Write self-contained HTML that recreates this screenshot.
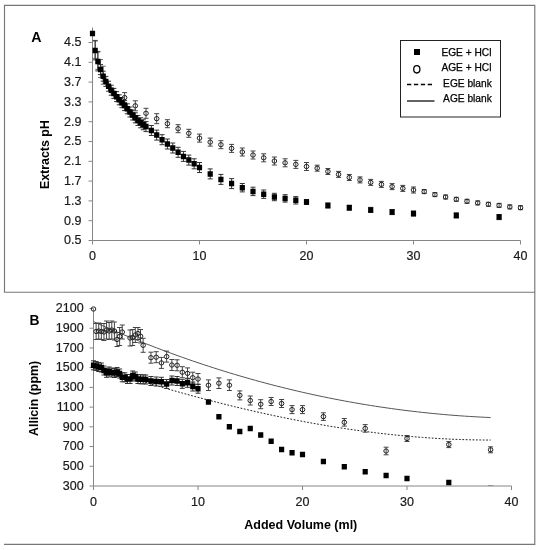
<!DOCTYPE html>
<html><head><meta charset="utf-8"><style>
html,body{margin:0;padding:0;background:#fff;width:541px;height:550px;overflow:hidden;}
svg{display:block;font-family:"Liberation Sans",sans-serif;will-change:transform;}
</style></head><body>
<svg width="541" height="550" viewBox="0 0 541 550">
<rect width="541" height="550" fill="#fff"/>
<g stroke="#777" stroke-width="1.15" fill="none" stroke-linecap="square">
<path d="M4.5 292.2V5.3H534.8V544.4H4.5M4.5 292.2H534.8"/>
</g>
<g stroke="#868686" stroke-width="1" fill="none">
<path d="M92.5 27.5V240.5H520.5"/>
<path d="M88.5 240.5H92.5M88.5 220.7H92.5M88.5 200.9H92.5M88.5 181.1H92.5M88.5 161.3H92.5M88.5 141.5H92.5M88.5 121.7H92.5M88.5 101.9H92.5M88.5 82.1H92.5M88.5 62.3H92.5M88.5 42.5H92.5M92.5 240.5V244.5M199.5 240.5V244.5M306.5 240.5V244.5M413.5 240.5V244.5M520.5 240.5V244.5"/>
</g>
<g font-family="Liberation Sans, sans-serif" font-size="12.5" fill="#1a1a1a" stroke="#1a1a1a" stroke-width="0.2">
<text x="81.4" y="244.3" text-anchor="end">0.5</text>
<text x="81.4" y="224.5" text-anchor="end">0.9</text>
<text x="81.4" y="204.7" text-anchor="end">1.3</text>
<text x="81.4" y="184.9" text-anchor="end">1.7</text>
<text x="81.4" y="165.1" text-anchor="end">2.1</text>
<text x="81.4" y="145.3" text-anchor="end">2.5</text>
<text x="81.4" y="125.5" text-anchor="end">2.9</text>
<text x="81.4" y="105.7" text-anchor="end">3.3</text>
<text x="81.4" y="85.9" text-anchor="end">3.7</text>
<text x="81.4" y="66.1" text-anchor="end">4.1</text>
<text x="81.4" y="46.3" text-anchor="end">4.5</text>
<text x="92.5" y="259.5" text-anchor="middle">0</text>
<text x="199.5" y="259.5" text-anchor="middle">10</text>
<text x="306.5" y="259.5" text-anchor="middle">20</text>
<text x="413.5" y="259.5" text-anchor="middle">30</text>
<text x="520.5" y="259.5" text-anchor="middle">40</text>
</g>
<g stroke="#868686" stroke-width="1" fill="none">
<path d="M93.5 308.5V486H511.5"/>
<path d="M89.5 486H93.5M89.5 466.28H93.5M89.5 446.56H93.5M89.5 426.83H93.5M89.5 407.11H93.5M89.5 387.39H93.5M89.5 367.67H93.5M89.5 347.95H93.5M89.5 328.22H93.5M89.5 308.5H93.5M93.5 486V490M198 486V490M302.5 486V490M407 486V490M511.5 486V490"/>
</g>
<g font-family="Liberation Sans, sans-serif" font-size="12.5" fill="#1a1a1a" stroke="#1a1a1a" stroke-width="0.2">
<text x="83.6" y="489.8" text-anchor="end">300</text>
<text x="83.6" y="470.08" text-anchor="end">500</text>
<text x="83.6" y="450.36" text-anchor="end">700</text>
<text x="83.6" y="430.63" text-anchor="end">900</text>
<text x="83.6" y="410.91" text-anchor="end">1100</text>
<text x="83.6" y="391.19" text-anchor="end">1300</text>
<text x="83.6" y="371.47" text-anchor="end">1500</text>
<text x="83.6" y="351.75" text-anchor="end">1700</text>
<text x="83.6" y="332.02" text-anchor="end">1900</text>
<text x="83.6" y="312.3" text-anchor="end">2100</text>
<text x="93.5" y="505.5" text-anchor="middle">0</text>
<text x="198" y="505.5" text-anchor="middle">10</text>
<text x="302.5" y="505.5" text-anchor="middle">20</text>
<text x="407" y="505.5" text-anchor="middle">30</text>
<text x="511.5" y="505.5" text-anchor="middle">40</text>
</g>
<path d="M95.17 40.4V58.4M92.67 40.4H97.67M92.67 58.4H97.67M97.85 51.4V69.4M95.35 51.4H100.35M95.35 69.4H100.35M100.53 59.6V77.6M98.03 59.6H103.03M98.03 77.6H103.03M103.2 66.2V84.2M100.7 66.2H105.7M100.7 84.2H105.7" stroke="#666" stroke-width="1" fill="none"/>
<path d="M124.6 92.6V102.6M122.1 92.6H127.1M122.1 102.6H127.1M135.3 100.8V110.8M132.8 100.8H137.8M132.8 110.8H137.8M146 108.3V118.3M143.5 108.3H148.5M143.5 118.3H148.5M156.7 113.7V123.7M154.2 113.7H159.2M154.2 123.7H159.2M167.4 119.7V127.7M164.9 119.7H169.9M164.9 127.7H169.9M178.1 124.7V132.7M175.6 124.7H180.6M175.6 132.7H180.6M188.8 129.3V137.3M186.3 129.3H191.3M186.3 137.3H191.3M199.5 134.1V142.1M197 134.1H202M197 142.1H202M210.2 138.1V146.1M207.7 138.1H212.7M207.7 146.1H212.7M220.9 140.7V148.7M218.4 140.7H223.4M218.4 148.7H223.4M231.6 144.4V152.4M229.1 144.4H234.1M229.1 152.4H234.1M242.3 148V156M239.8 148H244.8M239.8 156H244.8M253 151V159M250.5 151H255.5M250.5 159H255.5M263.7 153.8V161.8M261.2 153.8H266.2M261.2 161.8H266.2M274.4 157V165M271.9 157H276.9M271.9 165H276.9M285.1 158.8V166.8M282.6 158.8H287.6M282.6 166.8H287.6M295.8 160.4V168.4M293.3 160.4H298.3M293.3 168.4H298.3M306.5 162.5V170.5M304 162.5H309M304 170.5H309M317.2 165.2V171.2M314.7 165.2H319.7M314.7 171.2H319.7M327.9 168.5V174.5M325.4 168.5H330.4M325.4 174.5H330.4M338.6 171.4V177.4M336.1 171.4H341.1M336.1 177.4H341.1M349.3 174.5V180.5M346.8 174.5H351.8M346.8 180.5H351.8M360 176.9V182.9M357.5 176.9H362.5M357.5 182.9H362.5M370.7 179.4V185.4M368.2 179.4H373.2M368.2 185.4H373.2M381.4 181.4V187.4M378.9 181.4H383.9M378.9 187.4H383.9M392.1 183.6V189.6M389.6 183.6H394.6M389.6 189.6H394.6M402.8 185.4V191.4M400.3 185.4H405.3M400.3 191.4H405.3M413.5 187V193M411 187H416M411 193H416M424.2 189.6V193.6M421.7 189.6H426.7M421.7 193.6H426.7M434.9 192.6V196.6M432.4 192.6H437.4M432.4 196.6H437.4M445.6 195V199M443.1 195H448.1M443.1 199H448.1M456.3 197.3V201.3M453.8 197.3H458.8M453.8 201.3H458.8M467 199.3V203.3M464.5 199.3H469.5M464.5 203.3H469.5M477.7 200.9V204.9M475.2 200.9H480.2M475.2 204.9H480.2M488.4 202.3V206.3M485.9 202.3H490.9M485.9 206.3H490.9M499.1 203.4V207.4M496.6 203.4H501.6M496.6 207.4H501.6M509.8 204.9V208.9M507.3 204.9H512.3M507.3 208.9H512.3M520.5 205.7V209.7M518 205.7H523M518 209.7H523" stroke="#444" stroke-width="1" fill="none"/>
<g fill="none" stroke="#222" stroke-width="1"><ellipse cx="124.6" cy="97.6" rx="2.3" ry="2.15"/><ellipse cx="135.3" cy="105.8" rx="2.3" ry="2.15"/><ellipse cx="146" cy="113.3" rx="2.3" ry="2.15"/><ellipse cx="156.7" cy="118.7" rx="2.3" ry="2.15"/><ellipse cx="167.4" cy="123.7" rx="2.3" ry="2.15"/><ellipse cx="178.1" cy="128.7" rx="2.3" ry="2.15"/><ellipse cx="188.8" cy="133.3" rx="2.3" ry="2.15"/><ellipse cx="199.5" cy="138.1" rx="2.3" ry="2.15"/><ellipse cx="210.2" cy="142.1" rx="2.3" ry="2.15"/><ellipse cx="220.9" cy="144.7" rx="2.3" ry="2.15"/><ellipse cx="231.6" cy="148.4" rx="2.3" ry="2.15"/><ellipse cx="242.3" cy="152" rx="2.3" ry="2.15"/><ellipse cx="253" cy="155" rx="2.3" ry="2.15"/><ellipse cx="263.7" cy="157.8" rx="2.3" ry="2.15"/><ellipse cx="274.4" cy="161" rx="2.3" ry="2.15"/><ellipse cx="285.1" cy="162.8" rx="2.3" ry="2.15"/><ellipse cx="295.8" cy="164.4" rx="2.3" ry="2.15"/><ellipse cx="306.5" cy="166.5" rx="2.3" ry="2.15"/><ellipse cx="317.2" cy="168.2" rx="2.3" ry="2.15"/><ellipse cx="327.9" cy="171.5" rx="2.3" ry="2.15"/><ellipse cx="338.6" cy="174.4" rx="2.3" ry="2.15"/><ellipse cx="349.3" cy="177.5" rx="2.3" ry="2.15"/><ellipse cx="360" cy="179.9" rx="2.3" ry="2.15"/><ellipse cx="370.7" cy="182.4" rx="2.3" ry="2.15"/><ellipse cx="381.4" cy="184.4" rx="2.3" ry="2.15"/><ellipse cx="392.1" cy="186.6" rx="2.3" ry="2.15"/><ellipse cx="402.8" cy="188.4" rx="2.3" ry="2.15"/><ellipse cx="413.5" cy="190" rx="2.3" ry="2.15"/><ellipse cx="424.2" cy="191.6" rx="2.3" ry="2.15"/><ellipse cx="434.9" cy="194.6" rx="2.3" ry="2.15"/><ellipse cx="445.6" cy="197" rx="2.3" ry="2.15"/><ellipse cx="456.3" cy="199.3" rx="2.3" ry="2.15"/><ellipse cx="467" cy="201.3" rx="2.3" ry="2.15"/><ellipse cx="477.7" cy="202.9" rx="2.3" ry="2.15"/><ellipse cx="488.4" cy="204.3" rx="2.3" ry="2.15"/><ellipse cx="499.1" cy="205.4" rx="2.3" ry="2.15"/><ellipse cx="509.8" cy="206.9" rx="2.3" ry="2.15"/><ellipse cx="520.5" cy="207.7" rx="2.3" ry="2.15"/></g>
<path d="M95.17 40.9V59.9M92.67 40.9H97.67M92.67 59.9H97.67M97.85 51.9V70.9M95.35 51.9H100.35M95.35 70.9H100.35M100.53 64.6V74.6M98.03 64.6H103.03M98.03 74.6H103.03M103.2 71.2V81.2M100.7 71.2H105.7M100.7 81.2H105.7M105.88 76.4V86.4M103.38 76.4H108.38M103.38 86.4H108.38M108.55 81.2V91.2M106.05 81.2H111.05M106.05 91.2H111.05M111.22 85.2V95.2M108.72 85.2H113.72M108.72 95.2H113.72M113.9 88.4V98.4M111.4 88.4H116.4M111.4 98.4H116.4M116.58 91.64V101.64M114.08 91.64H119.08M114.08 101.64H119.08M119.25 94.8V104.8M116.75 94.8H121.75M116.75 104.8H121.75M121.92 97.7V107.7M119.42 97.7H124.42M119.42 107.7H124.42M124.6 100.6V110.6M122.1 100.6H127.1M122.1 110.6H127.1M127.28 103.8V113.8M124.78 103.8H129.78M124.78 113.8H129.78M129.95 107V117M127.45 107H132.45M127.45 117H132.45M132.62 109.99V119.99M130.12 109.99H135.12M130.12 119.99H135.12M135.3 112.8V122.8M132.8 112.8H137.8M132.8 122.8H137.8M137.97 115.43V125.43M135.47 115.43H140.47M135.47 125.43H140.47M140.65 117.8V127.8M138.15 117.8H143.15M138.15 127.8H143.15M143.32 119.76V129.76M140.82 119.76H145.82M140.82 129.76H145.82M146 121.6V131.6M143.5 121.6H148.5M143.5 131.6H148.5M151.35 125.5V135.5M148.85 125.5H153.85M148.85 135.5H153.85M156.7 130.1V140.1M154.2 130.1H159.2M154.2 140.1H159.2M162.05 134.7V144.7M159.55 134.7H164.55M159.55 144.7H164.55M167.4 139V149M164.9 139H169.9M164.9 149H169.9M172.75 143V153M170.25 143H175.25M170.25 153H175.25M178.1 147.3V157.3M175.6 147.3H180.6M175.6 157.3H180.6M183.45 151.4V161.4M180.95 151.4H185.95M180.95 161.4H185.95M188.8 155.1V165.1M186.3 155.1H191.3M186.3 165.1H191.3M194.15 158.8V168.8M191.65 158.8H196.65M191.65 168.8H196.65M199.5 162.5V172.5M197 162.5H202M197 172.5H202M210.2 168.9V178.9M207.7 168.9H212.7M207.7 178.9H212.7M220.9 174.4V184.4M218.4 174.4H223.4M218.4 184.4H223.4M231.6 178.6V188.6M229.1 178.6H234.1M229.1 188.6H234.1M242.3 183.5V191.9M239.8 183.5H244.8M239.8 191.9H244.8M253 187.2V195.6M250.5 187.2H255.5M250.5 195.6H255.5M263.7 190V198.4M261.2 190H266.2M261.2 198.4H266.2M274.4 193.3V200.7M271.9 193.3H276.9M271.9 200.7H276.9M285.1 194.7V202.1M282.6 194.7H287.6M282.6 202.1H287.6M295.8 196.6V204M293.3 196.6H298.3M293.3 204H298.3M306.5 199.5V204.5M304 199.5H309M304 204.5H309M327.9 203V208M325.4 203H330.4M325.4 208H330.4M349.3 205.2V210.2M346.8 205.2H351.8M346.8 210.2H351.8M370.7 207.4V212.4M368.2 207.4H373.2M368.2 212.4H373.2M392.1 209.6V214.6M389.6 209.6H394.6M389.6 214.6H394.6M413.5 211.1V216.1M411 211.1H416M411 216.1H416M456.3 212.9V217.9M453.8 212.9H458.8M453.8 217.9H458.8M499.1 214.6V219.6M496.6 214.6H501.6M496.6 219.6H501.6" stroke="#333" stroke-width="1" fill="none"/>
<path d="M89.9 30.65h5.2v5.5h-5.2zM92.58 47.65h5.2v5.5h-5.2zM95.25 58.65h5.2v5.5h-5.2zM97.93 66.85h5.2v5.5h-5.2zM100.6 73.45h5.2v5.5h-5.2zM103.28 78.65h5.2v5.5h-5.2zM105.95 83.45h5.2v5.5h-5.2zM108.62 87.45h5.2v5.5h-5.2zM111.3 90.65h5.2v5.5h-5.2zM113.98 93.89h5.2v5.5h-5.2zM116.65 97.05h5.2v5.5h-5.2zM119.33 99.95h5.2v5.5h-5.2zM122 102.85h5.2v5.5h-5.2zM124.68 106.05h5.2v5.5h-5.2zM127.35 109.25h5.2v5.5h-5.2zM130.03 112.24h5.2v5.5h-5.2zM132.7 115.05h5.2v5.5h-5.2zM135.38 117.68h5.2v5.5h-5.2zM138.05 120.05h5.2v5.5h-5.2zM140.72 122.01h5.2v5.5h-5.2zM143.4 123.85h5.2v5.5h-5.2zM148.75 127.75h5.2v5.5h-5.2zM154.1 132.35h5.2v5.5h-5.2zM159.45 136.95h5.2v5.5h-5.2zM164.8 141.25h5.2v5.5h-5.2zM170.15 145.25h5.2v5.5h-5.2zM175.5 149.55h5.2v5.5h-5.2zM180.85 153.65h5.2v5.5h-5.2zM186.2 157.35h5.2v5.5h-5.2zM191.55 161.05h5.2v5.5h-5.2zM196.9 164.75h5.2v5.5h-5.2zM207.6 171.15h5.2v5.5h-5.2zM218.3 176.65h5.2v5.5h-5.2zM229 180.85h5.2v5.5h-5.2zM239.7 184.95h5.2v5.5h-5.2zM250.4 188.65h5.2v5.5h-5.2zM261.1 191.45h5.2v5.5h-5.2zM271.8 194.25h5.2v5.5h-5.2zM282.5 195.65h5.2v5.5h-5.2zM293.2 197.55h5.2v5.5h-5.2zM303.9 199.25h5.2v5.5h-5.2zM325.3 202.75h5.2v5.5h-5.2zM346.7 204.95h5.2v5.5h-5.2zM368.1 207.15h5.2v5.5h-5.2zM389.5 209.35h5.2v5.5h-5.2zM410.9 210.85h5.2v5.5h-5.2zM453.7 212.65h5.2v5.5h-5.2zM496.5 214.35h5.2v5.5h-5.2z" fill="#000"/>
<defs><clipPath id="cb"><rect x="80" y="290" width="440" height="196"/></clipPath></defs><g clip-path="url(#cb)">
<polyline points="93.5,321.62 98.72,323.96 103.95,326.27 109.17,328.54 114.4,330.79 119.62,333.01 124.85,335.2 130.07,337.36 135.3,339.49 140.53,341.59 145.75,343.66 150.97,345.7 156.2,347.71 161.43,349.69 166.65,351.64 171.88,353.56 177.1,355.46 182.32,357.32 187.55,359.15 192.77,360.96 198,362.74 203.22,364.48 208.45,366.2 213.68,367.89 218.9,369.55 224.12,371.19 229.35,372.79 234.57,374.37 239.8,375.91 245.02,377.43 250.25,378.92 255.47,380.38 260.7,381.81 265.92,383.22 271.15,384.59 276.38,385.94 281.6,387.26 286.82,388.55 292.05,389.81 297.27,391.05 302.5,392.26 307.73,393.44 312.95,394.59 318.17,395.71 323.4,396.81 328.62,397.88 333.85,398.92 339.07,399.93 344.3,400.91 349.52,401.87 354.75,402.8 359.97,403.71 365.2,404.58 370.42,405.43 375.65,406.25 380.88,407.05 386.1,407.81 391.32,408.55 396.55,409.27 401.77,409.95 407,410.61 412.22,411.24 417.45,411.85 422.67,412.43 427.9,412.98 433.12,413.51 438.35,414.01 443.57,414.48 448.8,414.93 454.02,415.35 459.25,415.74 464.47,416.11 469.7,416.45 474.92,416.76 480.15,417.05 485.38,417.31 490.6,417.55" fill="none" stroke="#555" stroke-width="1"/>
<polyline points="93.5,365.96 98.72,367.68 103.95,369.37 109.17,371.06 114.4,372.73 119.62,374.39 124.85,376.03 130.07,377.66 135.3,379.27 140.53,380.86 145.75,382.44 150.97,384.01 156.2,385.56 161.43,387.09 166.65,388.6 171.88,390.1 177.1,391.58 182.32,393.04 187.55,394.49 192.77,395.92 198,397.33 203.22,398.72 208.45,400.09 213.68,401.45 218.9,402.78 224.12,404.1 229.35,405.39 234.57,406.67 239.8,407.92 245.02,409.16 250.25,410.38 255.47,411.57 260.7,412.74 265.92,413.9 271.15,415.03 276.38,416.14 281.6,417.22 286.82,418.29 292.05,419.33 297.27,420.35 302.5,421.35 307.73,422.33 312.95,423.28 318.17,424.2 323.4,425.11 328.62,425.99 333.85,426.84 339.07,427.67 344.3,428.48 349.52,429.26 354.75,430.02 359.97,430.75 365.2,431.45 370.42,432.13 375.65,432.79 380.88,433.41 386.1,434.01 391.32,434.58 396.55,435.13 401.77,435.65 407,436.14 412.22,436.6 417.45,437.04 422.67,437.44 427.9,437.82 433.12,438.17 438.35,438.49 443.57,438.78 448.8,439.04 454.02,439.28 459.25,439.48 464.47,439.65 469.7,439.79 474.92,439.9 480.15,439.98 485.38,440.03 490.6,440.05" fill="none" stroke="#222" stroke-width="1" stroke-dasharray="1.8 1.6"/>
<path d="M96.11 323.5V339.5M93.61 323.5H98.61M93.61 339.5H98.61M98.72 323V339M96.22 323H101.22M96.22 339H101.22M101.34 323.5V339.5M98.84 323.5H103.84M98.84 339.5H103.84M103.95 323.5V340.5M101.45 323.5H106.45M101.45 340.5H106.45M106.56 321V339M104.06 321H109.06M104.06 339H109.06M109.17 322.5V339.5M106.67 322.5H111.67M106.67 339.5H111.67M111.79 321V339M109.29 321H114.29M109.29 339H114.29M114.4 322V340M111.9 322H116.9M111.9 340H116.9M117.01 332.5V346.5M114.51 332.5H119.51M114.51 346.5H119.51M119.62 327.5V345.5M117.12 327.5H122.12M117.12 345.5H122.12M122.24 325V339M119.74 325H124.74M119.74 339H124.74M130.07 330V346M127.57 330H132.57M127.57 346H132.57M132.69 329.5V345.5M130.19 329.5H135.19M130.19 345.5H135.19M135.3 327.5V342.5M132.8 327.5H137.8M132.8 342.5H137.8M137.91 327.5V339.5M135.41 327.5H140.41M135.41 339.5H140.41M140.53 329.5V342.9M138.03 329.5H143.03M138.03 342.9H143.03M143.14 338.3V352.3M140.64 338.3H145.64M140.64 352.3H145.64M150.97 352.2V363.2M148.47 352.2H153.47M148.47 363.2H153.47M156.2 351.7V362.7M153.7 351.7H158.7M153.7 362.7H158.7M161.43 357.4V368.4M158.93 357.4H163.93M158.93 368.4H163.93M166.65 351.1V362.1M164.15 351.1H169.15M164.15 362.1H169.15M171.88 359.5V370.5M169.38 359.5H174.38M169.38 370.5H174.38M177.1 359.8V370.8M174.6 359.8H179.6M174.6 370.8H179.6M182.32 366.7V377.7M179.82 366.7H184.82M179.82 377.7H184.82M187.55 367.9V378.9M185.05 367.9H190.05M185.05 378.9H190.05M192.77 372.2V383.2M190.27 372.2H195.27M190.27 383.2H195.27M198 373.5V384.5M195.5 373.5H200.5M195.5 384.5H200.5M208.45 379.9V390.5M205.95 379.9H210.95M205.95 390.5H210.95M218.9 377.9V388.5M216.4 377.9H221.4M216.4 388.5H221.4M229.35 379.9V390.5M226.85 379.9H231.85M226.85 390.5H231.85M239.8 390.9V399.9M237.3 390.9H242.3M237.3 399.9H242.3M250.25 396V405M247.75 396H252.75M247.75 405H252.75M260.7 399.7V408.7M258.2 399.7H263.2M258.2 408.7H263.2M271.15 397.5V405.5M268.65 397.5H273.65M268.65 405.5H273.65M281.6 399.5V407.5M279.1 399.5H284.1M279.1 407.5H284.1M292.05 405.6V413.6M289.55 405.6H294.55M289.55 413.6H294.55M302.5 405.6V413.6M300 405.6H305M300 413.6H305M323.4 412.8V420.4M320.9 412.8H325.9M320.9 420.4H325.9M344.3 418.5V426.1M341.8 418.5H346.8M341.8 426.1H346.8M365.2 424.6V432.2M362.7 424.6H367.7M362.7 432.2H367.7M386.1 447.2V454.8M383.6 447.2H388.6M383.6 454.8H388.6M407 435.5V441.5M404.5 435.5H409.5M404.5 441.5H409.5M448.8 441.6V447.6M446.3 441.6H451.3M446.3 447.6H451.3M490.6 446.8V452.8M488.1 446.8H493.1M488.1 452.8H493.1" stroke="#444" stroke-width="1" fill="none"/>
<g fill="none" stroke="#222" stroke-width="1"><ellipse cx="93.5" cy="309" rx="2.3" ry="2.15"/><ellipse cx="96.11" cy="331.5" rx="2.3" ry="2.15"/><ellipse cx="98.72" cy="331" rx="2.3" ry="2.15"/><ellipse cx="101.34" cy="331.5" rx="2.3" ry="2.15"/><ellipse cx="103.95" cy="332" rx="2.3" ry="2.15"/><ellipse cx="106.56" cy="330" rx="2.3" ry="2.15"/><ellipse cx="109.17" cy="331" rx="2.3" ry="2.15"/><ellipse cx="111.79" cy="330" rx="2.3" ry="2.15"/><ellipse cx="114.4" cy="331" rx="2.3" ry="2.15"/><ellipse cx="117.01" cy="339.5" rx="2.3" ry="2.15"/><ellipse cx="119.62" cy="336.5" rx="2.3" ry="2.15"/><ellipse cx="122.24" cy="332" rx="2.3" ry="2.15"/><ellipse cx="130.07" cy="338" rx="2.3" ry="2.15"/><ellipse cx="132.69" cy="337.5" rx="2.3" ry="2.15"/><ellipse cx="135.3" cy="335" rx="2.3" ry="2.15"/><ellipse cx="137.91" cy="333.5" rx="2.3" ry="2.15"/><ellipse cx="140.53" cy="336.2" rx="2.3" ry="2.15"/><ellipse cx="143.14" cy="345.3" rx="2.3" ry="2.15"/><ellipse cx="150.97" cy="357.7" rx="2.3" ry="2.15"/><ellipse cx="156.2" cy="357.2" rx="2.3" ry="2.15"/><ellipse cx="161.43" cy="362.9" rx="2.3" ry="2.15"/><ellipse cx="166.65" cy="356.6" rx="2.3" ry="2.15"/><ellipse cx="171.88" cy="365" rx="2.3" ry="2.15"/><ellipse cx="177.1" cy="365.3" rx="2.3" ry="2.15"/><ellipse cx="182.32" cy="372.2" rx="2.3" ry="2.15"/><ellipse cx="187.55" cy="373.4" rx="2.3" ry="2.15"/><ellipse cx="192.77" cy="377.7" rx="2.3" ry="2.15"/><ellipse cx="198" cy="379" rx="2.3" ry="2.15"/><ellipse cx="208.45" cy="385.2" rx="2.3" ry="2.15"/><ellipse cx="218.9" cy="383.2" rx="2.3" ry="2.15"/><ellipse cx="229.35" cy="385.2" rx="2.3" ry="2.15"/><ellipse cx="239.8" cy="395.4" rx="2.3" ry="2.15"/><ellipse cx="250.25" cy="400.5" rx="2.3" ry="2.15"/><ellipse cx="260.7" cy="404.2" rx="2.3" ry="2.15"/><ellipse cx="271.15" cy="401.5" rx="2.3" ry="2.15"/><ellipse cx="281.6" cy="403.5" rx="2.3" ry="2.15"/><ellipse cx="292.05" cy="409.6" rx="2.3" ry="2.15"/><ellipse cx="302.5" cy="409.6" rx="2.3" ry="2.15"/><ellipse cx="323.4" cy="416.6" rx="2.3" ry="2.15"/><ellipse cx="344.3" cy="422.3" rx="2.3" ry="2.15"/><ellipse cx="365.2" cy="428.4" rx="2.3" ry="2.15"/><ellipse cx="386.1" cy="451" rx="2.3" ry="2.15"/><ellipse cx="407" cy="438.5" rx="2.3" ry="2.15"/><ellipse cx="448.8" cy="444.6" rx="2.3" ry="2.15"/><ellipse cx="490.6" cy="449.8" rx="2.3" ry="2.15"/></g>
<path d="M93.5 360.8V369.8M91 360.8H96M91 369.8H96M96.11 361.5V370.5M93.61 361.5H98.61M93.61 370.5H98.61M98.72 362.5V371.5M96.22 362.5H101.22M96.22 371.5H101.22M101.34 363V372M98.84 363H103.84M98.84 372H103.84M103.95 366V375M101.45 366H106.45M101.45 375H106.45M106.56 368.3V377.3M104.06 368.3H109.06M104.06 377.3H109.06M109.17 367V376M106.67 367H111.67M106.67 376H111.67M111.79 368V377M109.29 368H114.29M109.29 377H114.29M114.4 368.5V377.5M111.9 368.5H116.9M111.9 377.5H116.9M117.01 367.5V376.5M114.51 367.5H119.51M114.51 376.5H119.51M119.62 369V378M117.12 369H122.12M117.12 378H122.12M122.24 372.8V381.8M119.74 372.8H124.74M119.74 381.8H124.74M124.85 372.8V381.8M122.35 372.8H127.35M122.35 381.8H127.35M127.46 374.5V383.5M124.96 374.5H129.96M124.96 383.5H129.96M130.07 374.5V383.5M127.57 374.5H132.57M127.57 383.5H132.57M132.69 371V380M130.19 371H135.19M130.19 380H135.19M135.3 372V381M132.8 372H137.8M132.8 381H137.8M137.91 374.5V383.5M135.41 374.5H140.41M135.41 383.5H140.41M140.53 374.8V383.8M138.03 374.8H143.03M138.03 383.8H143.03M143.14 374.8V383.8M140.64 374.8H145.64M140.64 383.8H145.64M145.75 375V384M143.25 375H148.25M143.25 384H148.25M150.97 376.5V385.5M148.47 376.5H153.47M148.47 385.5H153.47M156.2 377V386M153.7 377H158.7M153.7 386H158.7M161.43 377.3V386.3M158.93 377.3H163.93M158.93 386.3H163.93M166.65 379.5V388.5M164.15 379.5H169.15M164.15 388.5H169.15M171.88 376V385M169.38 376H174.38M169.38 385H174.38M177.1 376.5V385.5M174.6 376.5H179.6M174.6 385.5H179.6M182.32 379.3V388.3M179.82 379.3H184.82M179.82 388.3H184.82M187.55 378.3V387.3M185.05 378.3H190.05M185.05 387.3H190.05M192.77 382V391M190.27 382H195.27M190.27 391H195.27M198 384.2V393.2M195.5 384.2H200.5M195.5 393.2H200.5" stroke="#333" stroke-width="1" fill="none"/>
<path d="M90.9 362.55h5.2v5.5h-5.2zM93.51 363.25h5.2v5.5h-5.2zM96.12 364.25h5.2v5.5h-5.2zM98.74 364.75h5.2v5.5h-5.2zM101.35 367.75h5.2v5.5h-5.2zM103.96 370.05h5.2v5.5h-5.2zM106.58 368.75h5.2v5.5h-5.2zM109.19 369.75h5.2v5.5h-5.2zM111.8 370.25h5.2v5.5h-5.2zM114.41 369.25h5.2v5.5h-5.2zM117.03 370.75h5.2v5.5h-5.2zM119.64 374.55h5.2v5.5h-5.2zM122.25 374.55h5.2v5.5h-5.2zM124.86 376.25h5.2v5.5h-5.2zM127.47 376.25h5.2v5.5h-5.2zM130.09 372.75h5.2v5.5h-5.2zM132.7 373.75h5.2v5.5h-5.2zM135.31 376.25h5.2v5.5h-5.2zM137.93 376.55h5.2v5.5h-5.2zM140.54 376.55h5.2v5.5h-5.2zM143.15 376.75h5.2v5.5h-5.2zM148.38 378.25h5.2v5.5h-5.2zM153.6 378.75h5.2v5.5h-5.2zM158.83 379.05h5.2v5.5h-5.2zM164.05 381.25h5.2v5.5h-5.2zM169.28 377.75h5.2v5.5h-5.2zM174.5 378.25h5.2v5.5h-5.2zM179.72 381.05h5.2v5.5h-5.2zM184.95 380.05h5.2v5.5h-5.2zM190.17 383.75h5.2v5.5h-5.2zM195.4 385.95h5.2v5.5h-5.2zM205.85 399.35h5.2v5.5h-5.2zM216.3 413.95h5.2v5.5h-5.2zM226.75 424.05h5.2v5.5h-5.2zM237.2 428.65h5.2v5.5h-5.2zM247.65 425.75h5.2v5.5h-5.2zM258.1 432.25h5.2v5.5h-5.2zM268.55 438.55h5.2v5.5h-5.2zM279 446.65h5.2v5.5h-5.2zM289.45 450.05h5.2v5.5h-5.2zM299.9 451.85h5.2v5.5h-5.2zM320.8 458.85h5.2v5.5h-5.2zM341.7 463.95h5.2v5.5h-5.2zM362.6 469.05h5.2v5.5h-5.2zM383.5 472.85h5.2v5.5h-5.2zM404.4 475.65h5.2v5.5h-5.2zM446.2 479.75h5.2v5.5h-5.2zM488 485.85h5.2v5.5h-5.2z" fill="#000"/>
</g>
<g font-family="Liberation Sans, sans-serif" font-weight="bold" fill="#000">
<text x="31.3" y="42" font-size="14.2">A</text>
<text x="29.6" y="325" font-size="13.8">B</text>
<text transform="translate(48.5 154.6) rotate(-90)" text-anchor="middle" font-size="12.4">Extracts pH</text>
<text transform="translate(37.7 398.4) rotate(-90)" text-anchor="middle" font-size="12.4">Allicin (ppm)</text>
<text x="244.3" y="528.6" font-size="12.5">Added Volume (ml)</text>
</g>
<rect x="400.5" y="40.5" width="100" height="76.5" fill="#fff" stroke="#222" stroke-width="1"/>
<g font-family="Liberation Sans, sans-serif" font-size="10.2" fill="#000" stroke="#000" stroke-width="0.25" text-anchor="end">
<text x="491.5" y="56">EGE + HCl</text>
<text x="491.5" y="71.2">AGE + HCl</text>
<text x="491.8" y="86.8">EGE blank</text>
<text x="491.8" y="102.4">AGE blank</text>
</g>
<rect x="414" y="49" width="6" height="6" fill="#000"/>
<ellipse cx="416.8" cy="69.3" rx="3.1" ry="3.7" fill="none" stroke="#000" stroke-width="1.3"/>
<path d="M407 84.5H432" stroke="#000" stroke-width="1.3" stroke-dasharray="4.3 2.6"/>
<path d="M407 101H434.5" stroke="#222" stroke-width="1.4"/>
</svg>
</body></html>
